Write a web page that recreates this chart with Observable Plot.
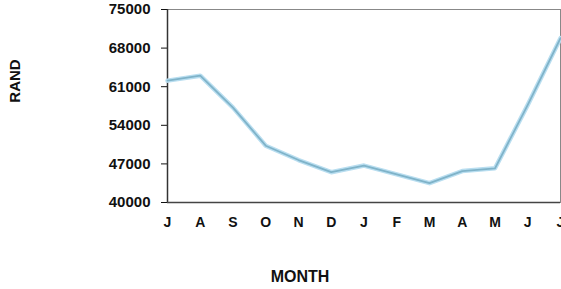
<!DOCTYPE html>
<html>
<head>
<meta charset="utf-8">
<script src="https://cdn.jsdelivr.net/npm/d3@7"></script>
<script src="https://cdn.jsdelivr.net/npm/@observablehq/plot@0.6"></script>
<style>
  html, body { margin: 0; padding: 0; background: #fff; }
  #chart svg { display: block; }
</style>
</head>
<body>
<div id="chart"></div>
<script>
const months = ["J", "A", "S", "O", "N", "D", "J", "F", "M", "A", "M", "J", "J"];
const rand = [62100, 63000, 57200, 50300, 47700, 45500, 46700, 45100, 43500, 45700, 46200, 57700, 69800];
const yTicks = [40000, 47000, 54000, 61000, 68000, 75000];

const data = months.map((m, i) => ({i, month: m, value: rand[i]}));

const chart = Plot.plot({
  width: 561,
  height: 289,
  marginLeft: 167,
  marginRight: 1,
  marginTop: 9,
  marginBottom: 87,
  style: {fontFamily: "Liberation Sans, Arial, sans-serif", fontWeight: "bold", fontSize: "13px", color: "#111", background: "#fff"},
  x: {type: "linear", domain: [0, 12]},
  y: {domain: [40000, 75000]},
  marks: [
    Plot.frame({stroke: "#888", strokeWidth: 1}),
    Plot.axisY({ticks: yTicks, tickFormat: d => String(d), tickSize: 6, tickPadding: 11, label: null, fontSize: 15, letterSpacing: "-0.3px"}),
    Plot.axisX({ticks: d3.range(months.length), tickFormat: i => months[i], tickSize: 0, tickPadding: 15, label: null, fontSize: 14}),
    Plot.text(["RAND"], {frameAnchor: "left", textAnchor: "middle", dx: -152, dy: -25, rotate: -90, fontSize: 15, fontWeight: "bold"}),
    Plot.text(["MONTH"], {frameAnchor: "bottom", textAnchor: "middle", dx: -64, dy: 79, fontSize: 16, fontWeight: "bold", letterSpacing: "-0.5px"}),
    Plot.ruleX([0], {stroke: "#333", strokeWidth: 1.5}),
    Plot.ruleY([40000], {stroke: "#444", strokeWidth: 1.5}),
    Plot.line(data, {x: "i", y: "value", stroke: "#b9def0", strokeWidth: 4.5}),
    Plot.line(data, {x: "i", y: "value", stroke: "#7fb3c9", strokeWidth: 1.8})
  ]
});
document.getElementById("chart").appendChild(chart);
</script>
</body>
</html>
